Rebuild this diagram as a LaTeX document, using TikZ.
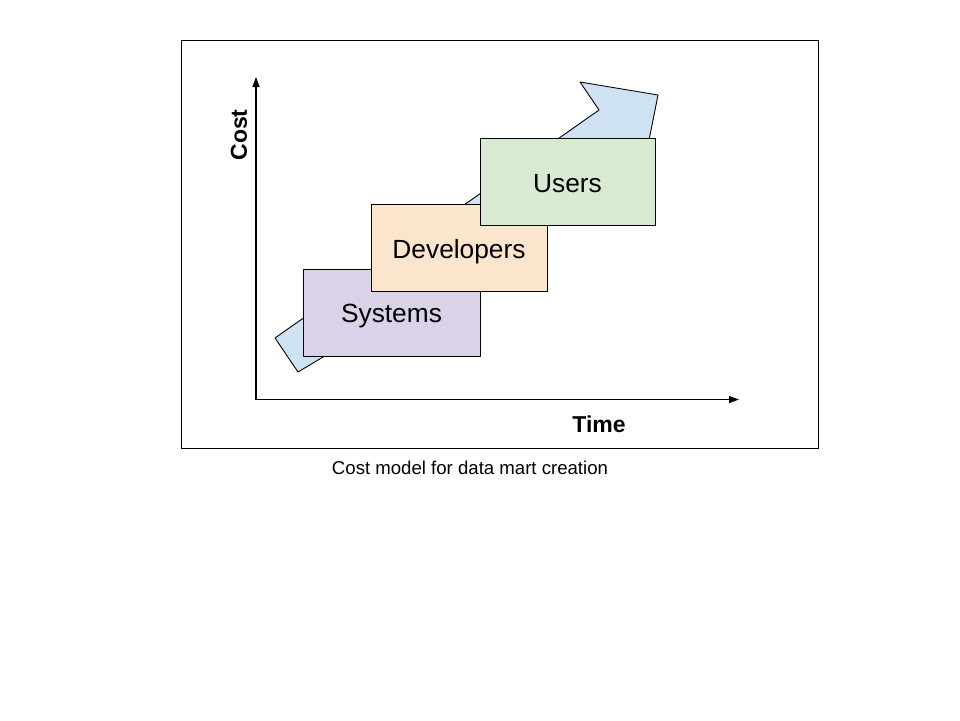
\documentclass[tikz,border=0pt]{standalone}
\usepackage{fontspec}
\setmainfont{Liberation Sans}
\usetikzlibrary{arrows.meta}
\definecolor{cblue}{HTML}{CFE2F3}
\definecolor{cpurple}{HTML}{D9D2E9}
\definecolor{corange}{HTML}{FCE5CD}
\definecolor{cgreen}{HTML}{D9EAD3}
\begin{document}
\begin{tikzpicture}[x=1pt,y=-1pt,
  box/.style={draw=black,line width=0.9pt,minimum height=87pt,inner sep=0pt,text height=20.5pt,text depth=0pt,font=\fontsize{26.3}{29}\selectfont},
  axis/.style={line width=1.5pt,-{Triangle[length=10pt,width=7pt]}},
  lbl/.style={font=\fontsize{23}{26}\selectfont\bfseries}]
\useasboundingbox (0,0) rectangle (960,720);
\draw[line width=0.9pt] (181,40) rectangle (818,448);
% blue arrow shape
\draw[fill=cblue,line width=0.9pt,line join=round] (275,338) -- (599,110) -- (580,82) -- (658,95) -- (644,165) -- (298,372) -- cycle;
\node[box,fill=cpurple,minimum width=177pt] (sys) at (391.5,312.5) {Systems};
\node[box,fill=corange,minimum width=176pt] (dev) at (459,248) {Developers};
\node[box,fill=cgreen,minimum width=175pt] (usr) at (567.5,182) {Users};
\coordinate (o) at (256,399.5);
\coordinate (ytip) at (256,77);
\coordinate (xtip) at (739,399.5);
\draw[axis] (o) -- (ytip);
\draw[axis] ([xshift=-0.75pt]o) -- (xtip);
\node[lbl,rotate=90] (cost) at (239,135) {Cost};
\node[lbl] (time) at (599,424) {Time};
\node[font=\fontsize{18.6}{22}\selectfont] (cap) at (470,468) {Cost model for data mart creation};
\end{tikzpicture}
\end{document}
